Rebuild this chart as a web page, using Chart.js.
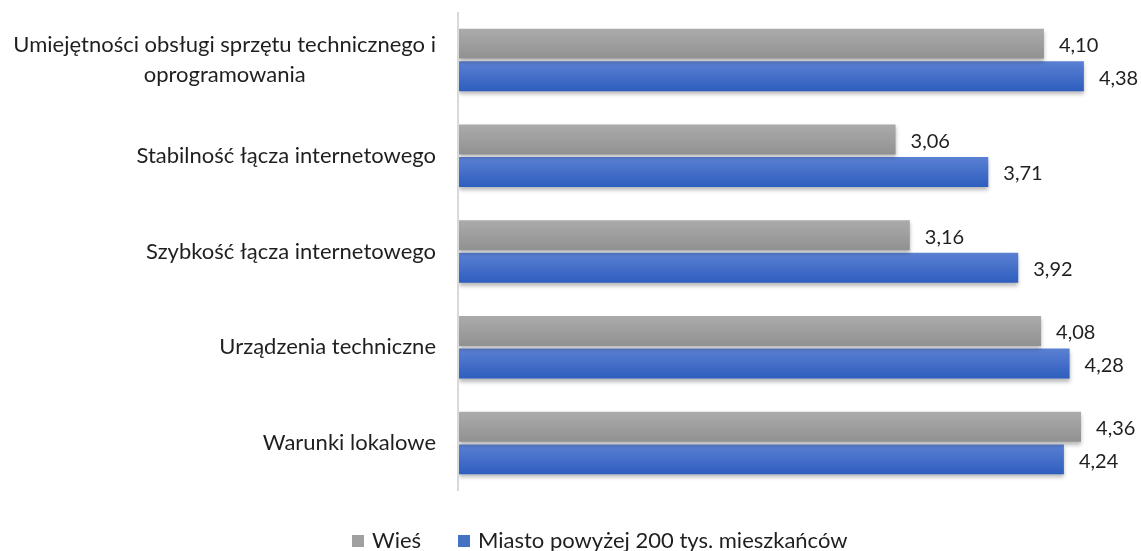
<!DOCTYPE html>
<html>
<head>
<meta charset="utf-8">
<script src="https://cdn.jsdelivr.net/npm/chart.js@4"></script>
<style>
  body { margin: 0; background: #fff; }
  #wrap { width: 1141px; height: 551px; }
</style>
</head>
<body>
<div id="wrap"><canvas id="chart"></canvas></div>
<script>
const categories = [
    ['Umiejętności obsługi sprzętu technicznego i', 'oprogramowania'],
    ['Stabilność łącza internetowego'],
    ['Szybkość łącza internetowego'],
    ['Urządzenia techniczne'],
    ['Warunki lokalowe']
];
const seriesNames = ['Wieś', 'Miasto powyżej 200 tys. mieszkańców'];
const wiesValues = [4.10, 3.06, 3.16, 4.08, 4.36];
const miastoValues = [4.38, 3.71, 3.92, 4.28, 4.24];

const FONT = 'Lato, "Open Sans", sans-serif';
const TEXT = '#1f1f1f';
const CAT_PCT = 0.68;
const BAR_PCT = 0.92;

// vertical gradient per bar, worked out from the category scale
function grad(top, bottom) {
    return ctx => {
        const chart = ctx.chart;
        const y = chart.scales.y;
        const area = chart.chartArea;
        if (!y || !area || ctx.dataIndex === undefined) return top;
        const center = y.getPixelForValue(ctx.dataIndex);
        const band = (area.bottom - area.top) / categories.length;
        const slot = band * CAT_PCT / 2;
        const start = ctx.datasetIndex === 0 ? center - slot : center;
        const h = slot * BAR_PCT;
        const y0 = start + (slot - h) / 2;
        if (!isFinite(y0)) return top;
        const g = chart.ctx.createLinearGradient(0, y0, 0, y0 + h);
        g.addColorStop(0, top);
        g.addColorStop(1, bottom);
        return g;
    };
}

const shadowPlugin = {
    id: 'barShadow',
    beforeDatasetsDraw(chart) {
        const c = chart.ctx;
        c.save();
        c.shadowColor = 'rgba(0,0,0,0.28)';
        c.shadowBlur = 4;
        c.shadowOffsetY = 3;
    },
    afterDatasetsDraw(chart) {
        chart.ctx.restore();
    }
};

const valueLabels = {
    id: 'valueLabels',
    afterDraw(chart) {
        const c = chart.ctx;
        c.save();
        c.font = '20px ' + FONT;
        c.fillStyle = TEXT;
        c.textBaseline = 'middle';
        c.textAlign = 'left';
        chart.data.datasets.forEach((ds, i) => {
            chart.getDatasetMeta(i).data.forEach((bar, j) => {
                const txt = ds.data[j].toFixed(2).replace('.', ',');
                c.fillText(txt, bar.x + 15, bar.y + 2);
            });
        });
        c.restore();
    }
};

// category labels: block right-aligned, lines centred inside the block
const catLabels = {
    id: 'catLabels',
    afterDraw(chart) {
        const c = chart.ctx;
        const y = chart.scales.y;
        c.save();
        c.font = '22px ' + FONT;
        c.fillStyle = TEXT;
        c.textBaseline = 'middle';
        c.textAlign = 'center';
        const right = chart.chartArea.left - 23;
        const lh = 30;
        categories.forEach((lines, i) => {
            const w = Math.max(...lines.map(l => c.measureText(l).width));
            const cx = right - w / 2;
            const cy = y.getPixelForValue(i);
            lines.forEach((l, k) => {
                c.fillText(l, cx, cy + (k - (lines.length - 1) / 2) * lh);
            });
        });
        c.restore();
    }
};

const axisLine = {
    id: 'axisLine',
    beforeDatasetsDraw(chart) {
        const a = chart.chartArea;
        const c = chart.ctx;
        c.save();
        c.strokeStyle = '#d9d9d9';
        c.lineWidth = 2;
        c.beginPath();
        c.moveTo(a.left - 1, a.top);
        c.lineTo(a.left - 1, a.bottom);
        c.stroke();
        c.restore();
    }
};

const legendPlugin = {
    id: 'bottomLegend',
    afterDraw(chart) {
        const c = chart.ctx;
        const cols = ['#a0a0a0', '#4472c4'];
        const xs = [352, 458];
        const yc = 541;
        c.save();
        c.font = '22px ' + FONT;
        c.textBaseline = 'middle';
        seriesNames.forEach((name, i) => {
            c.fillStyle = cols[i];
            c.fillRect(xs[i], yc - 6, 12, 12);
            c.fillStyle = TEXT;
            c.fillText(name, xs[i] + 20, yc);
        });
        c.restore();
    }
};

new Chart(document.getElementById('chart'), {
    type: 'bar',
    data: {
        labels: categories.map(l => l.join(' ')),
        datasets: [{
            label: seriesNames[0],
            data: wiesValues,
            backgroundColor: grad('#ababab', '#919191'),
            categoryPercentage: CAT_PCT,
            barPercentage: BAR_PCT
        }, {
            label: seriesNames[1],
            data: miastoValues,
            backgroundColor: grad('#5b80d3', '#2e5ebf'),
            categoryPercentage: CAT_PCT,
            barPercentage: BAR_PCT
        }]
    },
    options: {
        indexAxis: 'y',
        responsive: true,
        maintainAspectRatio: false,
        animation: false,
        layout: { padding: { top: 12, right: 40, left: 0, bottom: 60 } },
        scales: {
            x: { display: false, min: 0, max: 4.5 },
            y: {
                grid: { display: false, drawTicks: false },
                border: { display: false },
                ticks: { display: false },
                afterFit(scale) { scale.width = 459; }
            }
        },
        plugins: {
            legend: { display: false },
            tooltip: { enabled: false }
        }
    },
    plugins: [axisLine, shadowPlugin, valueLabels, catLabels, legendPlugin]
});
</script>
</body>
</html>
